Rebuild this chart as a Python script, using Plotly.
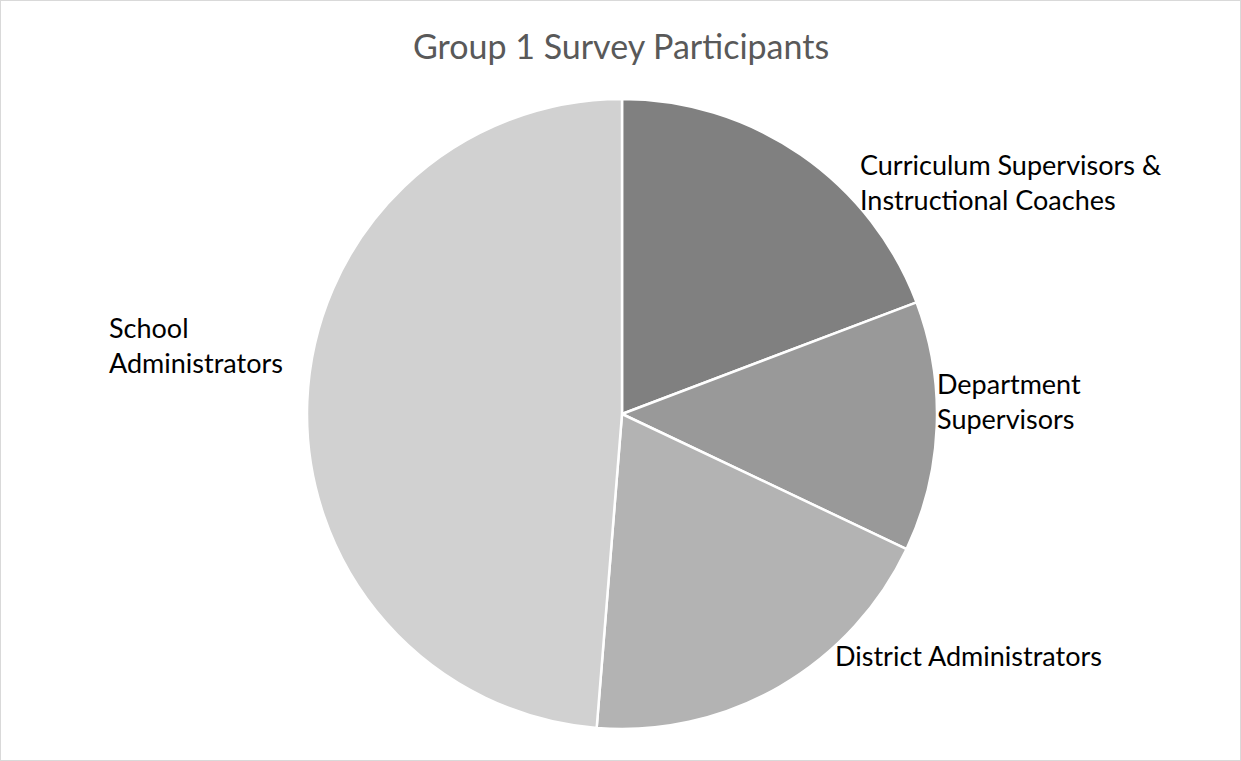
import plotly.graph_objects as go

# Survey participant counts by role
roles = [
    "Curriculum Supervisors &<br>Instructional Coaches",
    "Department<br>Supervisors",
    "District Administrators",
    "School<br>Administrators",
]
counts = [15, 10, 15, 38]
colors = ["#808080", "#999999", "#b3b3b3", "#d1d1d1"]

W, H = 1241, 761
cx, cy, r = 622, 414, 315

fig = go.Figure(
    go.Pie(
        labels=roles,
        values=counts,
        sort=False,
        direction="clockwise",
        rotation=0,
        textinfo="none",
        hoverinfo="label+value+percent",
        marker=dict(colors=colors, line=dict(color="white", width=2.5)),
        domain=dict(
            x=[(cx - r) / W, (cx + r) / W],
            y=[1 - (cy + r) / H, 1 - (cy - r) / H],
        ),
        showlegend=False,
    )
)

# Category labels placed beside their slices (left edge, vertical middle in px)
label_pos = [
    (858, 182),
    (935, 401),
    (833, 655),
    (107, 345),
]
for (lx, ly), text in zip(label_pos, roles):
    fig.add_annotation(
        x=lx / W, y=1 - ly / H, xref="paper", yref="paper",
        text=text, showarrow=False, xanchor="left", yanchor="middle",
        align="left", font=dict(family="Lato", size=27, color="#000000"),
    )

fig.add_annotation(
    x=620.5 / W, y=1 - 46 / H, xref="paper", yref="paper",
    text="Group 1 Survey Participants", showarrow=False,
    xanchor="center", yanchor="middle",
    font=dict(family="Lato", size=34, color="#595959"),
)

# Chart-area frame
fig.add_shape(
    type="rect", xref="paper", yref="paper", x0=0, y0=0, x1=1, y1=1,
    line=dict(color="#d9d9d9", width=2), fillcolor="rgba(0,0,0,0)",
)

fig.update_layout(
    width=W, height=H,
    margin=dict(l=0, r=0, t=0, b=0),
    paper_bgcolor="white", plot_bgcolor="white",
)

fig.write_html("out.html")
